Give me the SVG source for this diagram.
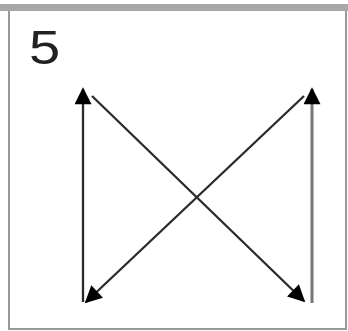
<svg xmlns="http://www.w3.org/2000/svg" width="348" height="331" viewBox="0 0 348 331">
<style>
.frame{fill:#fff;stroke:#999;stroke-width:2}
.top{fill:#a8a8a8}
.c{stroke:#2a2a2a;stroke-width:2.3;fill:none}
.cg{stroke:#777;stroke-width:3;fill:none}
.lbl{font-family:"Liberation Sans",Arial,sans-serif;font-size:48px;fill:#222}
</style>
<defs>
<marker id="ah2" viewBox="0 0 10 10" refX="9" refY="5" markerWidth="19" markerHeight="17" markerUnits="userSpaceOnUse" orient="auto">
<path d="M0,0 L10,5 L0,10 z" fill="#000"/>
</marker>
</defs>
<rect x="0" y="0" width="348" height="331" fill="#fff"/>
<g id="frame">
<rect class="frame" x="9" y="8" width="337" height="321"/>
<rect class="top" x="0" y="4" width="348" height="7"/>
</g>
<g id="label">
<text class="lbl" x="0" y="64" transform="translate(29,0) scale(1.17,1)">5</text>
</g>
<g id="connectors">
<line class="c" x1="83" y1="302" x2="83" y2="89" marker-end="url(#ah2)"/>
<line class="cg" x1="312" y1="303" x2="312" y2="89" marker-end="url(#ah2)"/>
<line class="c" x1="92" y1="96" x2="304" y2="301" marker-end="url(#ah2)"/>
<line class="c" x1="304" y1="96" x2="86" y2="302" marker-end="url(#ah2)"/>
</g>
</svg>
